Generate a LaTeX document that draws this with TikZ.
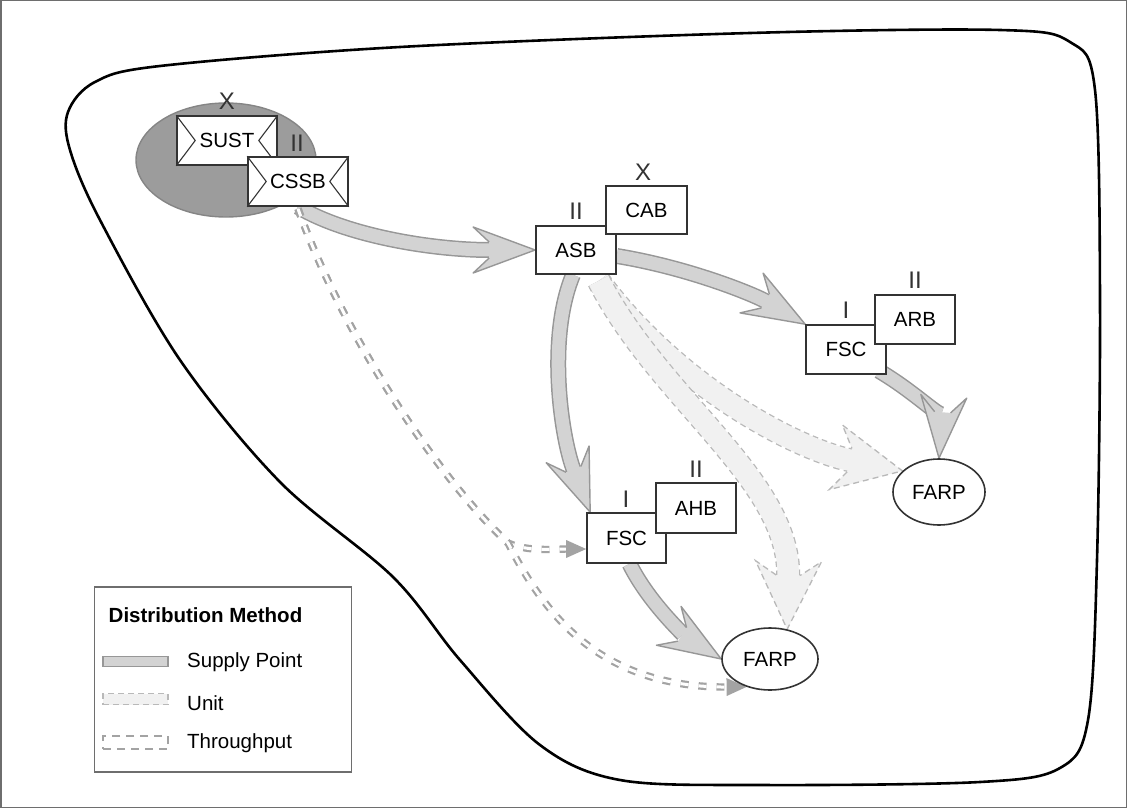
\documentclass[tikz,border=0pt]{standalone}
\usepackage{fontspec}
\setmainfont{Liberation Sans}
\usetikzlibrary{shapes.geometric,decorations.markings,calc}
\definecolor{ellfill}{HTML}{9C9C9C}
\definecolor{elledge}{HTML}{858585}
\definecolor{supfill}{HTML}{D3D3D3}
\definecolor{supedge}{HTML}{979797}
\definecolor{unitfill}{HTML}{F1F1F1}
\definecolor{unitedge}{HTML}{B9B9B9}
\definecolor{thrcol}{HTML}{A3A3A3}
\definecolor{boxcol}{HTML}{333333}
\definecolor{framecol}{HTML}{6E6E6E}
\pgfdeclarelayer{bg}
\pgfdeclarelayer{arrowlayer}
\pgfsetlayers{bg,arrowlayer,main}
\newcommand\suparrow[1]{\draw[supouter] #1; \draw[supinner] #1; \path[suphead] #1;}
\newcommand\unitarrow[1]{\draw[unitouter] #1; \draw[unitinner] #1; \path[unithead] #1;}
\newcommand\thrarrow[1]{\draw[thrbody] #1; \path[thrhead] #1;}
\tikzset{
  box/.style={draw=boxcol, line width=1.6pt, fill=white, inner sep=0pt,
    minimum width=80pt, minimum height=48pt, font=\fontsize{20.5}{24}\selectfont},
  envbox/.style={box, minimum width=100pt, minimum height=49pt},
  chevron/.style={draw=boxcol, line width=1.1pt},
  farpnode/.style={ellipse, draw=boxcol, line width=1.6pt, fill=white, inner sep=0pt,
    font=\fontsize{20.5}{24}\selectfont},
  echelon/.style={inner sep=0pt, text=boxcol, font=\fontsize{24}{28}\selectfont},
  blobline/.style={draw=black, line width=2.6pt},
  supouter/.style={draw=supedge, line width=16pt, shorten >=45pt},
  supinner/.style={draw=supfill, line width=13pt, shorten >=45pt},
  suphead/.style={decorate, decoration={markings, mark=at position -0.05pt with {
    \fill[supfill] (0,0) -- (-62,23) -- (-46,8) -- (-46,-8) -- (-62,-23) -- cycle;
    \draw[supedge, line width=1.4pt, line join=round, solid] (-46,8) -- (-62,23) -- (0,0) -- (-62,-23) -- (-46,-8);
  }}},
  unitouter/.style={draw=unitedge, line width=24pt, dash pattern=on 6pt off 4pt, shorten >=53pt},
  unitinner/.style={draw=unitfill, line width=21.4pt, shorten >=53pt},
  unithead/.style={decorate, decoration={markings, mark=at position -0.05pt with {
    \fill[unitfill] (0,0) -- (-68,33) -- (-54,12) -- (-54,-12) -- (-68,-33) -- cycle;
    \draw[unitedge, line width=1.3pt, dash pattern=on 6pt off 4pt] (-54,12) -- (-68,33) -- (0,0) -- (-68,-33) -- (-54,-12);
  }}},
  thrbody/.style={draw=thrcol, line width=2.2pt, double=white, double distance=3pt,
    dash pattern=on 8pt off 10pt, shorten >=18pt},
  thrhead/.style={decorate, decoration={markings, mark=at position -0.05pt with {
    \fill[thrcol] (0,0) -- (-20,9) -- (-20,-9) -- cycle;
  }}},
  legendbox/.style={draw=framecol, line width=1.6pt, fill=white, minimum width=257pt, minimum height=185pt, inner sep=0pt},
  legtitle/.style={inner sep=0pt, font=\bfseries\fontsize{20.5}{24}\selectfont},
  legtext/.style={inner sep=0pt, anchor=west, font=\fontsize{20.5}{24}\selectfont},
  supsample/.style={draw=supedge, fill=supfill, line width=1.2pt, minimum width=65pt, minimum height=10pt, inner sep=0pt},
  unitsample/.style={draw=unitedge, fill=unitfill, line width=1.2pt, dash pattern=on 6pt off 4pt, minimum width=65pt, minimum height=11pt, inner sep=0pt},
  thrsample/.style={draw=thrcol, line width=1.8pt, dash pattern=on 8pt off 6pt, minimum width=65pt, minimum height=13pt, inner sep=0pt},
}
\begin{document}
\begin{tikzpicture}[x=1pt,y=-1pt]
\useasboundingbox (0,0) rectangle (1127,808);
\draw[framecol, line width=1.5pt] (0.75,0.75) rectangle (1126.25,807.25);

\begin{pgfonlayer}{bg}
\draw[blobline] plot[smooth cycle, tension=0.55] coordinates {
  (68,112) (95,82) (160,66) (400,47) (750,33) (1000,30) (1070,42) (1095,90)
  (1100,300) (1097,560) (1088,720) (1060,768) (980,782) (760,785) (620,780)
  (540,745) (460,660) (393,577) (280,482) (180,360) (100,220) (70,150)};
\node[ellipse, fill=ellfill, draw=elledge, line width=1.4pt, minimum width=180pt, minimum height=114pt] (grp) at (226,160) {};
\end{pgfonlayer}

% nodes
\node[envbox] (sust) at (227,140.5) {SUST};
\draw[chevron] (sust.north west) -- ($(sust.west)+(19,0)$) -- (sust.south west);
\draw[chevron] (sust.north east) -- ($(sust.east)+(-19,0)$) -- (sust.south east);
\node[envbox] (cssb) at (298,181.5) {CSSB};
\draw[chevron] (cssb.north west) -- ($(cssb.west)+(19,0)$) -- (cssb.south west);
\draw[chevron] (cssb.north east) -- ($(cssb.east)+(-19,0)$) -- (cssb.south east);
\node[echelon] (sustx) at (227,101) {X};
\node[echelon] (sustii) at (297,143) {II};

\node[box] (asb) at (576,250) {ASB};
\node[box, minimum width=81pt] (cab) at (646.5,210) {CAB};
\node[echelon] (asbii) at (576,211) {II};
\node[echelon] (cabx) at (643,172) {X};

\node[box, minimum height=49pt] (fsc1) at (846,349.5) {FSC};
\node[box, minimum height=49pt] (arb) at (915,319.5) {ARB};
\node[echelon] (fsc1i) at (846,310) {I};
\node[echelon] (arbii) at (915,280) {II};

\node[box, minimum width=79pt, minimum height=50pt] (fsc2) at (626.5,538) {FSC};
\node[box, minimum height=50pt] (ahb) at (696,508) {AHB};
\node[echelon] (fsc2i) at (626,499) {I};
\node[echelon] (ahbii) at (696,469) {II};

\node[farpnode, minimum width=92pt, minimum height=66pt] (farp1) at (939,492) {FARP};
\node[farpnode, minimum width=96pt, minimum height=62pt] (farp2) at (770,659) {FARP};

% connectors
\begin{pgfonlayer}{arrowlayer}
\unitarrow{($(asb.south east)+(-18,6)$) .. controls (680,390) and (800,450) .. (farp1.150)}
\unitarrow{($(asb.south east)+(-18,6)$) .. controls (660,400) and (790,480) .. (farp2.60)}
\suparrow{(cssb.south) .. controls (345,235) and (430,250) .. (asb.west)}
\suparrow{($(asb.south)+(-3,0)$) .. controls (546,340) and (562,440) .. ($(fsc2.north west)+(4,0)$)}
\suparrow{($(asb.east)+(0,6)$) .. controls (690,268) and (755,295) .. (fsc1.north west)}
\suparrow{($(fsc1.south east)+(-8,-4)$) .. controls (915,392) and (942,420) .. (farp1.north)}
\suparrow{($(fsc2.south)+(3,0)$) .. controls (650,605) and (688,638) .. (farp2.west)}
\thrarrow{($(cssb.south)+(0,2)$) .. controls (345,340) and (440,480) .. (508,543) .. controls (528,552) and (555,549) .. ($(fsc2.west)+(0,11)$)}
\thrarrow{($(cssb.south)+(0,2)$) .. controls (345,340) and (440,480) .. (508,543) .. controls (545,615) and (600,688) .. (farp2.230)}
\end{pgfonlayer}

% legend
\node[legendbox] (legend) at (223,679.5) {};
\node[legtitle] (legtitle) at (205.5,615) {Distribution Method};
\node[supsample] (legsup) at (135.5,661.5) {};
\node[unitsample] (legunit) at (135.5,699) {};
\node[thrsample] (legthr) at (135.5,742.5) {};
\node[legtext] (legsupt) at (187,662) {Supply Point};
\node[legtext] (legunitt) at (187,703) {Unit};
\node[legtext] (legthrt) at (187,743) {Throughput};
\end{tikzpicture}
\end{document}
